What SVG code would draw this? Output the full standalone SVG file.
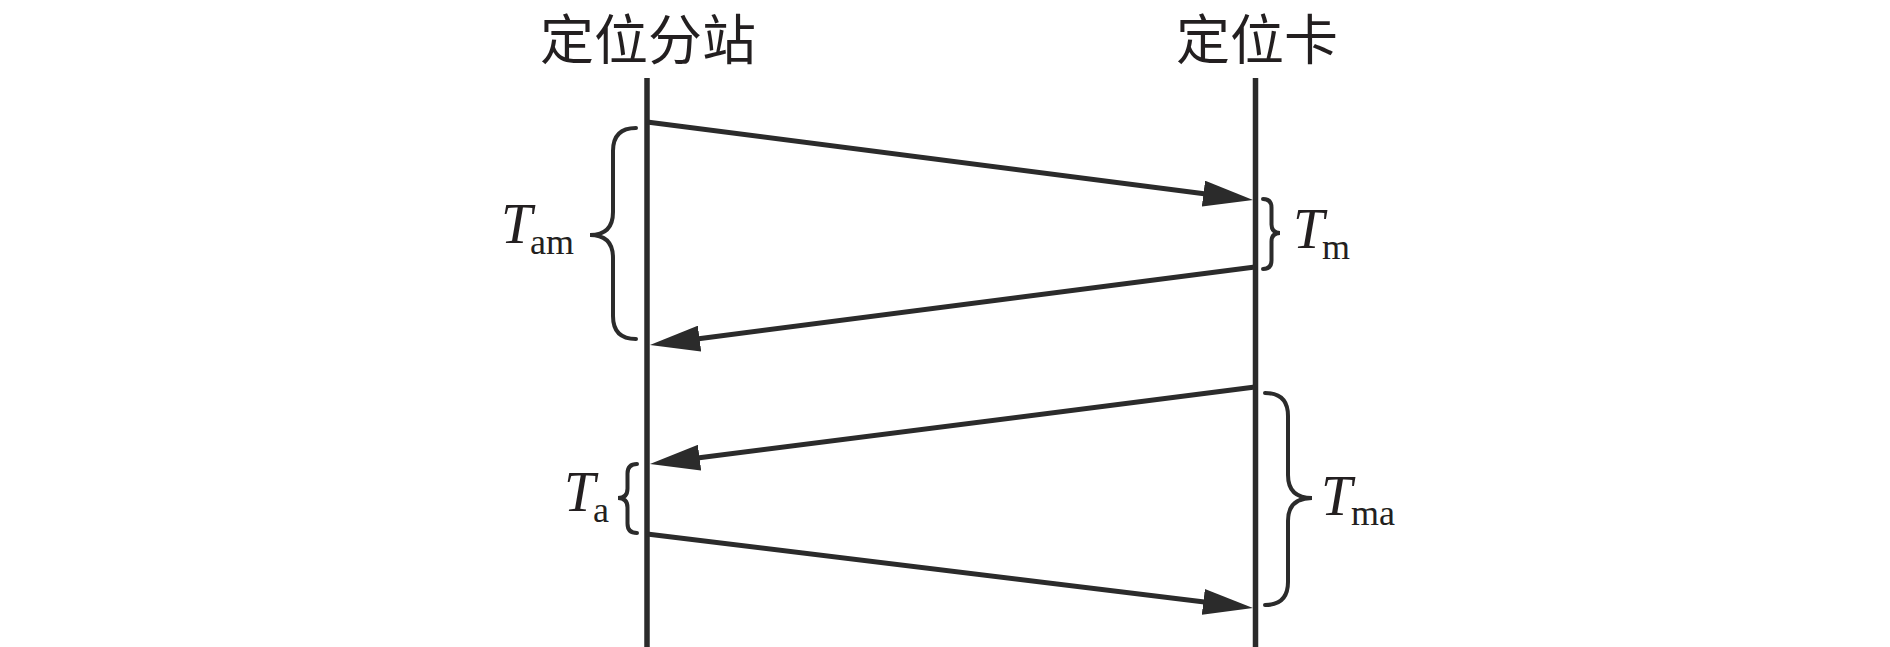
<svg xmlns="http://www.w3.org/2000/svg" width="1890" height="647" viewBox="0 0 1890 647">
<style>
.life{stroke:#2b2b2b;stroke-width:5.5;fill:none}
.msg{stroke:#2b2b2b;stroke-width:5;fill:none}
.brace{stroke:#2b2b2b;stroke-width:4;fill:none;stroke-linecap:round}
.hdr{font-family:"Noto Sans CJK SC",sans-serif;font-size:54px;fill:#231f20;text-anchor:middle}
.T{font-family:"Liberation Serif",serif;font-style:italic;font-size:56px;fill:#231f20}
.sub{font-family:"Liberation Serif",serif;font-size:36px;fill:#231f20}
</style>
<defs>
<marker id="ah" viewBox="0 0 50 26" refX="30" refY="13" markerWidth="50" markerHeight="26" markerUnits="userSpaceOnUse" orient="auto">
<path d="M0,0 L50,13 L0,26 z" fill="#2b2b2b"/>
</marker>
</defs>
<g id="station">
<text class="hdr" x="648" y="60">定位分站</text>
<line class="life" x1="647" y1="78" x2="647" y2="647"/>
</g>
<g id="card">
<text class="hdr" x="1257" y="60">定位卡</text>
<line class="life" x1="1255.5" y1="78" x2="1255.5" y2="647"/>
</g>
<g id="connectors">
<line class="msg" x1="647" y1="122" x2="1233.2" y2="197.4" marker-end="url(#ah)"/>
<line class="msg" x1="1255" y1="267" x2="669.8" y2="342.4" marker-end="url(#ah)"/>
<line class="msg" x1="1255" y1="387" x2="669.8" y2="461.5" marker-end="url(#ah)"/>
<line class="msg" x1="647" y1="534" x2="1233.1" y2="605.6" marker-end="url(#ah)"/>
</g>
<g id="Tam">
<path class="brace" d="M636,128 Q613,128 613,151 L613,212 Q613,235 590,235 Q613,235 613,258 L613,316 Q613,339 636,339"/>
<text class="T" x="501" y="243">T</text><text class="sub" x="530" y="254">am</text>
</g>
<g id="Ta">
<path class="brace" d="M637,464 Q627.5,464 627.5,473.5 L627.5,488.5 Q627.5,498 618,498 Q627.5,498 627.5,507.5 L627.5,523.5 Q627.5,533 637,533"/>
<text class="T" x="564" y="511">T</text><text class="sub" x="593" y="522">a</text>
</g>
<g id="Tm">
<path class="brace" d="M1263,199 Q1271.5,199 1271.5,207.5 L1271.5,224.5 Q1271.5,233 1280,233 Q1271.5,233 1271.5,241.5 L1271.5,260.5 Q1271.5,269 1263,269"/>
<text class="T" x="1293" y="248">T</text><text class="sub" x="1322" y="259">m</text>
</g>
<g id="Tma">
<path class="brace" d="M1265,393 Q1288,393 1288,416 L1288,475 Q1288,498 1312,498 Q1288,498 1288,521 L1288,582 Q1288,605 1265,605"/>
<text class="T" x="1321" y="515">T</text><text class="sub" x="1351" y="525">ma</text>
</g>
</svg>
